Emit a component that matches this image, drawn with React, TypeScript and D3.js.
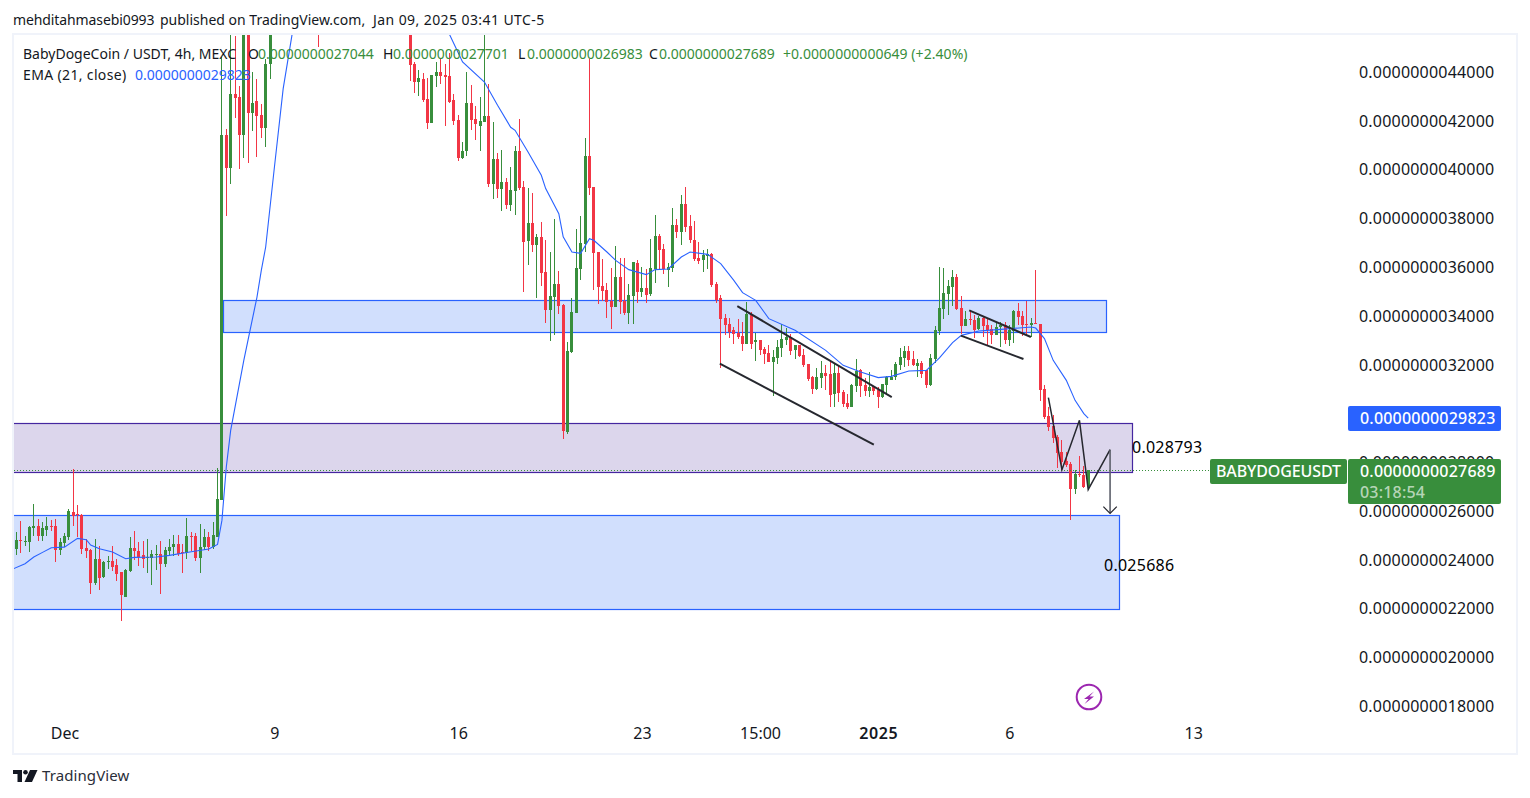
import React, { useEffect, useRef } from 'react';
import * as d3 from 'd3';

// prices are in units of 1e-13 USDT, so 27689 reads as 0.0000000027689
// bars between 59 and 89 sit above the pane, only the wick at 69 pokes in
const barSlots = [...d3.range(0, 59), 69, ...d3.range(90, 246)];

const opens = [
  24438, 24807, 24725, 24725, 25299, 25381, 24971, 25217, 25381, 25381, 24397, 24684, 24930, 25955, 25873, 25832,
  24479, 24397, 23044, 24028, 23290, 23905, 23946, 23782, 23495, 22470, 23536, 24479, 24356, 24192, 24069, 24069,
  24192, 24233, 23823, 24356, 24520, 24643, 24315, 24274, 24971, 24971, 24069, 24520, 24930, 24520, 24930, 26448,
  41416, 40076, 43097, 42974, 41416, 46000, 42318, 42810, 42236, 41703, 44328,
  46800,
  46000, 44328, 43589, 43712, 42892, 41908, 43836, 44000, 43877, 43836, 42851, 42031, 40473, 40760, 42728, 42072,
  41785, 41949, 42195, 39407, 40432, 39202, 39489, 38545, 39120, 40760, 39284, 37069, 37807, 36905, 37233, 35798,
  34239, 34772, 35306, 34445, 29236, 32517, 34117, 35921, 36946, 40555, 39284, 36618, 35224, 35060, 34609, 34363,
  35593, 34609, 34117, 34814, 36167, 34978, 35142, 34896, 35921, 37274, 36741, 35880, 35962, 37726, 37438, 38587,
  37685, 37110, 36372, 36290, 36454, 36536, 35306, 34732, 33912, 33666, 33420, 33297, 33174, 32845, 34076, 32927,
  33010, 32640, 32476, 32107, 32271, 32681, 33010, 33133, 32599, 32804, 32394, 32025, 31492, 31000, 31451, 31656,
  31615, 30795, 31656, 30877, 30426, 30262, 31123, 31779, 31164, 30918, 31123, 30959, 30672, 31164, 31369, 31492,
  31984, 32271, 32558, 32230, 31943, 32066, 31779, 31164, 32230, 33378, 34280, 34896, 35183, 35593, 34322, 33583,
  33870, 33829, 33460, 33911, 33624, 33460, 33214, 33542, 33624, 33009, 33378, 34198, 33994, 33665, 33624, 33706,
  33665, 31000, 29892, 29482, 29031, 28416, 28047, 27924, 26899, 27514, 27473, 27044,
];
const closes = [
  24807, 24766, 24766, 25340, 25381, 24971, 25299, 25381, 25340, 24397, 24725, 24971, 25996, 25791, 25832, 24438,
  24356, 23044, 24028, 23249, 23905, 23946, 23700, 23413, 22552, 23577, 24479, 24356, 24110, 24028, 24110, 24233,
  24233, 23823, 24397, 24520, 24643, 24233, 24274, 24971, 24930, 24069, 24520, 24930, 24520, 25012, 26489, 41416,
  40076, 43097, 42933, 41416, 46000, 42318, 42728, 42195, 41703, 44328, 46000,
  46600,
  44287, 43589, 43754, 42851, 41908, 43877, 44000, 43836, 43795, 42769, 41990, 40473, 40787, 42728, 42031, 41867,
  41990, 42195, 39407, 40432, 39202, 39489, 38545, 39160, 40760, 39243, 37028, 37807, 36905, 37233, 35757, 34239,
  34814, 35306, 34403, 29277, 32558, 34158, 35962, 36987, 40555, 39242, 36605, 35183, 35019, 34568, 34363, 35593,
  34568, 34117, 34855, 36208, 34978, 35142, 34855, 35962, 37274, 36700, 35921, 36003, 37726, 37438, 38587, 37644,
  37110, 36331, 36249, 36495, 36536, 35265, 34650, 33871, 33625, 33338, 33256, 33133, 32845, 34076, 32845, 33010,
  32599, 32435, 32107, 32312, 32722, 33051, 33133, 32558, 32804, 32353, 31984, 31410, 31000, 31492, 31656, 31533,
  30754, 31656, 30836, 30385, 30262, 31164, 31738, 31123, 30918, 31082, 30918, 30672, 31205, 31492, 31492, 32025,
  32312, 32558, 32189, 31984, 32066, 31615, 31164, 32271, 33420, 34322, 34937, 35224, 35593, 34280, 33583, 33870,
  33829, 33419, 33911, 33583, 33419, 33214, 33542, 33624, 33009, 33419, 34198, 33952, 33624, 33624, 33706, 33665,
  30959, 29851, 29441, 28990, 28375, 28006, 27883, 26899, 27514, 27473, 26981, 27689,
];
const highs = [
  25135, 25586, 24971, 25381, 26284, 25668, 25545, 25750, 25627, 25668, 24889, 25094, 26079, 27719, 26243, 25873,
  24848, 24438, 24848, 24561, 23946, 24151, 24561, 24028, 23495, 23618, 24930, 25176, 24725, 24766, 24848, 24397,
  24602, 24766, 24520, 24848, 25012, 25012, 24643, 25709, 25135, 25094, 25463, 25258, 25135, 25545, 27760, 44615,
  41689, 45900, 45476, 43425, 46500, 46500, 44000, 43712, 42687, 44560, 46500,
  47000,
  46500, 44410, 44082, 43959, 43753, 43877, 44410, 44574, 44328, 44779, 43097, 42236, 41129, 44000, 43466, 42605,
  42974, 46000, 43507, 41949, 40678, 40801, 39653, 40104, 40965, 42072, 39530, 39243, 39038, 37356, 37848, 37110,
  36618, 37971, 35839, 34486, 32927, 34732, 37562, 38095, 41293, 44533, 39284, 36618, 36331, 35347, 35962, 36864,
  36372, 36372, 35306, 36208, 36290, 36003, 35921, 37151, 38136, 37356, 36946, 36167, 38423, 37972, 38956, 39284,
  38136, 37890, 37028, 36700, 36741, 36577, 35388, 34855, 34076, 33912, 33543, 33871, 33748, 34568, 34158, 33297,
  33010, 32722, 32804, 32599, 33010, 33666, 33502, 33256, 32804, 32804, 32640, 32025, 31533, 31861, 32148, 31984,
  32148, 32025, 31943, 30959, 30795, 31205, 32230, 31820, 31451, 31697, 31123, 31082, 31205, 31533, 31779, 32107,
  32681, 32763, 32763, 32558, 32230, 32148, 31779, 32435, 33584, 36003, 35962, 35470, 35880, 35716, 34814, 34198,
  34240, 34034, 33994, 33994, 33870, 33624, 33747, 33747, 33747, 33624, 34239, 34527, 34198, 34609, 33911, 35880,
  33665, 31164, 30262, 29933, 29113, 28908, 28416, 28006, 27678, 28252, 27842, 27701,
];
const lows = [
  24192, 24288, 24561, 24315, 24971, 24766, 24766, 24971, 25176, 23905, 24219, 24520, 24807, 25381, 24930, 24233,
  24069, 22593, 22962, 22757, 23249, 23618, 23536, 23126, 21485, 22470, 23495, 23987, 23741, 23659, 23454, 22962,
  23577, 22593, 23700, 24192, 24151, 24151, 23454, 24028, 24356, 23946, 23454, 24397, 24356, 24438, 24930, 26448,
  38108, 39434, 42113, 40022, 40473, 40268, 41580, 40514, 41293, 40924, 43712,
  45025,
  43630, 43138, 43015, 42769, 41662, 41908, 43384, 43507, 41785, 42728, 41826, 40350, 40432, 40555, 41621, 41211,
  40760, 41949, 39283, 38791, 38832, 38299, 38381, 38299, 38135, 39161, 34977, 36085, 36618, 34732, 35224, 33706,
  32968, 33214, 34075, 28949, 29154, 32476, 34117, 35470, 36618, 38955, 35060, 34486, 34609, 33912, 33460, 34363,
  34076, 34035, 33665, 33665, 34527, 34773, 34527, 34814, 35347, 35921, 35716, 35183, 35798, 37192, 36905, 37438,
  36987, 36249, 36126, 35798, 35921, 35183, 34527, 31861, 33215, 33092, 32845, 33051, 32558, 32845, 32640, 32148,
  32394, 32025, 32107, 30713, 32025, 32312, 32804, 32394, 32230, 32312, 31902, 31328, 30795, 30959, 31041, 30959,
  30262, 30262, 30467, 30262, 30180, 30262, 30877, 30672, 30713, 30672, 30754, 30221, 30631, 30795, 31369, 31369,
  31779, 31902, 31943, 31943, 31492, 31451, 31041, 31123, 32066, 33214, 33870, 34034, 34403, 34240, 33255, 33583,
  33624, 33091, 33419, 33132, 32763, 32845, 33214, 32722, 32845, 32763, 32886, 33624, 33173, 33173, 33132, 33665,
  30507, 29769, 29277, 28785, 27760, 27678, 27801, 25627, 26694, 27391, 26940, 26983,
];

const emaBars = [
  -1, 2, 4, 6, 8, 11, 14, 16, 17, 19, 22, 25, 27, 32, 35, 40, 44, 46, 47, 48, 49, 52, 55, 56, 57, 59, 61, 63, 65, 80,
  92, 99, 102, 107, 110, 113, 114, 117, 120, 121, 124, 125, 127, 129, 131, 132, 135, 137, 140, 144, 146, 149, 152,
  154, 158, 161, 164, 166, 169, 172, 178, 185, 189, 193, 197, 200, 204, 208, 211, 214, 216, 220, 225, 232, 233, 235,
  237, 240, 242, 244, 245,
];
const emaValues = [
  23618, 23852, 24123, 24315, 24508, 24532, 24889, 24836, 24614, 24467, 24328, 24057, 24110, 24123, 24192, 24344,
  24450, 24644, 25627, 27814, 29319, 32189, 34773, 35880, 36836, 40116, 43332, 45517, 47500, 48500, 46800,
  45558, 44422, 43602, 42647, 41744, 41621, 40719, 39776, 39231, 38205, 37254, 36631, 36577, 37180, 37110, 36631,
  36290, 35909, 35704, 35909, 35934, 36425, 36631, 36536, 36155, 35470, 34966, 34650, 33899, 33420, 32599, 31984,
  31709, 31480, 31533, 31750, 31779, 32292, 32915, 33214, 33391, 33460, 33555, 33514, 33079, 32189, 31369, 30549,
  30003, 29823,
];

const priceTicks = [44000, 42000, 40000, 38000, 36000, 34000, 32000, 30000, 28000, 26000, 24000, 22000, 20000, 18000];
const timeTicks = [11, 59, 101, 143, 170, 197, 227, 269];
const timeLabels = ['Dec', '9', '16', '23', '15:00', '2025', '6', '13'];

// zones and hand drawn lines, anchored on bar number and price
const zoneBars = [[47.3, 249.2], [-2, 254.9], [-2, 252.0]];
const zonePrices = [[34670, 33358], [29606, 27596], [25832, 21977]];
const zoneColors = ['#2962ff', '#4527a0', '#2962ff'];
const zoneFills = ['#d1dffd', '#dcd6ec', '#d1dffd'];

const trendBars = [[164.8, 200.1], [160.8, 196.0], [217.8, 231.9], [215.9, 230.2]];
const trendPrices = [[34416, 30684], [32054, 28732], [34240, 33145], [33202, 32242]];
const zigzagBars = [235.9, 239.0, 243.0, 245.0, 250.0];
const zigzagPrices = [30659, 27707, 29729, 26887, 28527];

const lastClose = 27689;
const lastEma = 29823;

const GREEN = '#388e3c';
const RED = '#f23645';
const BLUE = '#2962ff';
const INK = '#131722';
const FONT = '"Noto Sans", sans-serif';

const PANE = { left: 14, right: 1516, top: 35, bottom: 753 };

const x = d3.scaleLinear().domain([0, 245]).range([16.3, 1088.2]);
const y = d3.scaleLinear().domain([44000, 18000]).range([72.3, 706.4]);

const formatPrice = (v: number) => (v * 1e-13).toFixed(13);

const App = () => {
  const chartRef = useRef<SVGGElement>(null);

  useEffect(() => {
    const g = d3.select(chartRef.current);
    g.selectAll('*').remove();

    const candles = barSlots.map((bar, i) => ({
      bar,
      open: opens[i],
      close: closes[i],
      high: highs[i],
      low: lows[i],
    }));
    const colorOf = (d) => (d.close >= d.open ? GREEN : RED);

    const pane = g.append('g').attr('clip-path', 'url(#pane-clip)');

    // zones go under the candles
    zonePrices.forEach((p, i) => {
      pane.append('rect')
        .attr('x', Math.round(x(zoneBars[i][0])) + 0.5)
        .attr('y', Math.round(y(p[0])) + 0.5)
        .attr('width', Math.round(x(zoneBars[i][1]) - x(zoneBars[i][0])))
        .attr('height', Math.round(y(p[1]) - y(p[0])))
        .style('fill', zoneFills[i])
        .style('stroke', zoneColors[i])
        .style('stroke-width', 1.2);
    });

    pane.selectAll('.wick')
      .data(candles)
      .enter()
      .append('rect')
      .attr('class', 'wick')
      .attr('x', (d) => Math.floor(x(d.bar)))
      .attr('y', (d) => Math.round(y(d.high)))
      .attr('width', 1)
      .attr('height', (d) => Math.max(1, Math.round(y(d.low)) - Math.round(y(d.high))))
      .attr('shape-rendering', 'crispEdges')
      .style('fill', colorOf);

    pane.selectAll('.body')
      .data(candles)
      .enter()
      .append('rect')
      .attr('class', 'body')
      .attr('x', (d) => Math.floor(x(d.bar)) - 1)
      .attr('y', (d) => Math.round(y(Math.max(d.open, d.close))))
      .attr('width', 3)
      .attr('height', (d) => Math.max(1, Math.round(y(Math.min(d.open, d.close))) - Math.round(y(Math.max(d.open, d.close)))))
      .attr('shape-rendering', 'crispEdges')
      .style('fill', colorOf);

    const emaLine = d3.line<number>()
      .x((d) => x(d))
      .y((d, i) => y(emaValues[i]));
    pane.append('path')
      .attr('d', emaLine(emaBars))
      .style('fill', 'none')
      .style('stroke', BLUE)
      .style('stroke-width', 1.1);

    // last price dotted line
    pane.append('line')
      .attr('x1', PANE.left)
      .attr('x2', 1210)
      .attr('y1', Math.round(y(lastClose)) + 0.5)
      .attr('y2', Math.round(y(lastClose)) + 0.5)
      .style('stroke', GREEN)
      .style('stroke-width', 1)
      .style('stroke-dasharray', '1,2');

    trendPrices.forEach((p, i) => {
      pane.append('line')
        .attr('x1', x(trendBars[i][0]))
        .attr('x2', x(trendBars[i][1]))
        .attr('y1', y(p[0]))
        .attr('y2', y(p[1]))
        .style('stroke', '#26282f')
        .style('stroke-width', 2);
    });

    const zigzag = d3.line<number>()
      .x((d) => x(d))
      .y((d, i) => y(zigzagPrices[i]));
    pane.append('path')
      .attr('d', zigzag(zigzagBars))
      .style('fill', 'none')
      .style('stroke', '#26282f')
      .style('stroke-width', 1.5);

    // arrow down from the end of the zigzag
    const arrowX = x(250);
    const arrowTip = y(25915);
    pane.append('line')
      .attr('x1', arrowX)
      .attr('x2', arrowX)
      .attr('y1', y(28527))
      .attr('y2', arrowTip)
      .style('stroke', '#5d606b')
      .style('stroke-width', 1.6);
    pane.append('path')
      .attr('d', `M${arrowX - 6.7},${arrowTip - 6.7}L${arrowX},${arrowTip}L${arrowX + 6.7},${arrowTip - 6.7}`)
      .style('fill', 'none')
      .style('stroke', '#26282f')
      .style('stroke-width', 1.2);

    const yAxis = d3.axisRight(y)
      .tickValues(priceTicks)
      .tickSize(0)
      .tickPadding(0)
      .tickFormat((d) => formatPrice(+d));
    const yAxisG = g.append('g').attr('transform', 'translate(1359,0)').call(yAxis);
    yAxisG.select('.domain').remove();
    yAxisG.selectAll('text')
      .style('font-family', FONT)
      .style('font-size', '16px')
      .style('letter-spacing', '0.2px')
      .style('fill', INK);

    const xAxis = d3.axisBottom(x)
      .tickValues(timeTicks)
      .tickSize(0)
      .tickPadding(0)
      .tickFormat((d) => timeLabels[timeTicks.indexOf(+d)]);
    const xAxisG = g.append('g').attr('transform', 'translate(0,728)').call(xAxis);
    xAxisG.select('.domain').remove();
    xAxisG.selectAll('text')
      .style('font-family', FONT)
      .style('font-size', '16px')
      .style('fill', INK)
      .style('letter-spacing', (d) => (+d === 197 ? '0.6px' : '0px'))
      .style('font-weight', (d) => (+d === 197 ? 600 : 400));
  }, []);

  const legendText = { fontFamily: FONT, fontSize: 14, fill: INK };
  const greenText = { fontFamily: FONT, fontSize: 14, fill: GREEN };
  const tagText = { fontFamily: FONT, fontSize: 16, fill: '#ffffff', fontWeight: 500, letterSpacing: 0.2 };
  const noteText = { fontFamily: FONT, fontSize: 16, fill: '#000000', letterSpacing: 0.25 };

  return (
    <svg
      width={1530}
      height={798}
      style={{ position: 'absolute', left: 0, top: 0, display: 'block', background: '#ffffff' }}
    >
      <defs>
        <clipPath id="pane-clip">
          <rect x={PANE.left} y={PANE.top} width={1330} height={PANE.bottom - PANE.top} />
        </clipPath>
      </defs>

      <text y={25} style={legendText}>
        <tspan x={13} style={{ letterSpacing: -0.1 }}>mehditahmasebi0993</tspan>
        <tspan x={160}>published on TradingView.com,</tspan>
        <tspan x={373} style={{ letterSpacing: 0.42 }}>Jan 09, 2025 03:41 UTC-5</tspan>
      </text>

      <rect
        x={13}
        y={34}
        width={1504}
        height={720}
        style={{ fill: 'none', stroke: '#f0f3fa', strokeWidth: 2 }}
      />

      <g ref={chartRef} />

      <text x={23} y={59} style={legendText}>BabyDogeCoin / USDT, 4h, MEXC</text>
      <text x={248} y={59} style={legendText}>O</text>
      <text x={258} y={59} style={greenText}>0.0000000027044</text>
      <text x={383} y={59} style={legendText}>H</text>
      <text x={393} y={59} style={greenText}>0.0000000027701</text>
      <text x={518} y={59} style={legendText}>L</text>
      <text x={527} y={59} style={greenText}>0.0000000026983</text>
      <text x={649} y={59} style={legendText}>C</text>
      <text x={659} y={59} style={greenText}>0.0000000027689</text>
      <text x={783} y={59} style={{ ...greenText, letterSpacing: 0.05 }}>+0.0000000000649 (+2.40%)</text>
      <text x={23} y={80} style={{ ...legendText, letterSpacing: 0.35 }}>EMA (21, close)</text>
      <text x={135} y={80} style={{ ...legendText, fill: BLUE }}>{formatPrice(lastEma)}</text>

      <text x={1132} y={453} style={noteText}>0.028793</text>
      <text x={1104} y={571} style={noteText}>0.025686</text>

      <rect x={1348} y={406} width={153} height={25} rx={2} style={{ fill: BLUE }} />
      <text x={1360} y={424} style={tagText}>{formatPrice(lastEma)}</text>

      <rect x={1210} y={459} width={137} height={25} rx={2} style={{ fill: GREEN }} />
      <text x={1216} y={477} style={{ ...tagText, letterSpacing: 0 }} textLength={125}>BABYDOGEUSDT</text>
      <rect x={1348} y={459} width={153} height={45} rx={2} style={{ fill: GREEN }} />
      <text x={1360} y={477} style={tagText}>{formatPrice(lastClose)}</text>
      <text x={1360} y={498} style={{ ...tagText, fillOpacity: 0.65 }}>03:18:54</text>

      {/* lightning badge */}
      <circle cx={1089} cy={697} r={12.3} style={{ fill: '#ffffff', stroke: '#9c27b0', strokeWidth: 2 }} />
      <path d="M1094,691.5L1084,699H1088.5L1084.5,704L1094,696.5H1089.5Z" style={{ fill: '#9c27b0' }} />

      {/* TradingView logo */}
      <path d="M13,770H22V782H17.5V774H13Z" style={{ fill: INK }} />
      <circle cx={25.5} cy={772.2} r={2.3} style={{ fill: INK }} />
      <path d="M30,770H37.5L32,782H24.5Z" style={{ fill: INK }} />
      <text x={42} y={781} style={{ fontFamily: FONT, fontSize: 15, fill: '#2a2e39', letterSpacing: 0.1 }}>TradingView</text>
    </svg>
  );
};

export default App;
